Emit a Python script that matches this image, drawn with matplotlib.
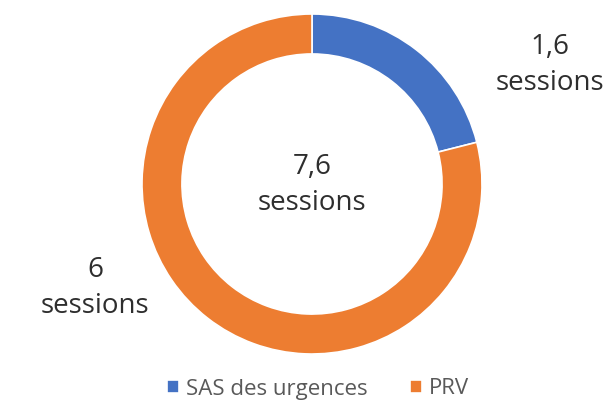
import matplotlib.pyplot as plt
import matplotlib as mpl

mpl.rcParams['font.family'] = ['Open Sans', 'DejaVu Sans']

labels = ['SAS des urgences', 'PRV']
values = [1.6, 6]
colors = ['#4472C4', '#ED7D31']
slice_text = ['1,6\nsessions', '6\nsessions']
total_text = '7,6\nsessions'

W, H = 611, 401
fig = plt.figure(figsize=(W / 100, H / 100), dpi=100)

# donut centre and radius in pixels (from top-left)
cx, cy, r = 312, 184, 170
ax = fig.add_axes([(cx - r) / W, (H - cy - r) / H, 2 * r / W, 2 * r / H])

wedges, _ = ax.pie(values, colors=colors, startangle=90, counterclock=False,
                   radius=1, wedgeprops=dict(width=0.235, edgecolor='white', linewidth=1.2))
ax.set_xlim(-1, 1)
ax.set_ylim(-1, 1)
ax.set_aspect('equal')
ax.axis('off')

txt = dict(ha='center', va='center', fontsize=20, color='#2e2e2e',
           linespacing=1.38)
fig.text(cx / W, 1 - 185 / H, total_text, **txt)
fig.text(550 / W, 1 - 65 / H, slice_text[0], **txt)
fig.text(95 / W, 1 - 288 / H, slice_text[1], **txt)

fig.legend(wedges, labels, loc='center', bbox_to_anchor=(0.52, 1 - 389 / H),
           ncol=2, frameon=False, fontsize=16, handlelength=0.55, handleheight=0.55,
           handletextpad=0.3, columnspacing=1.9, labelcolor='#595959',
           borderaxespad=0, borderpad=0)

fig.savefig('out.png', dpi=100)
